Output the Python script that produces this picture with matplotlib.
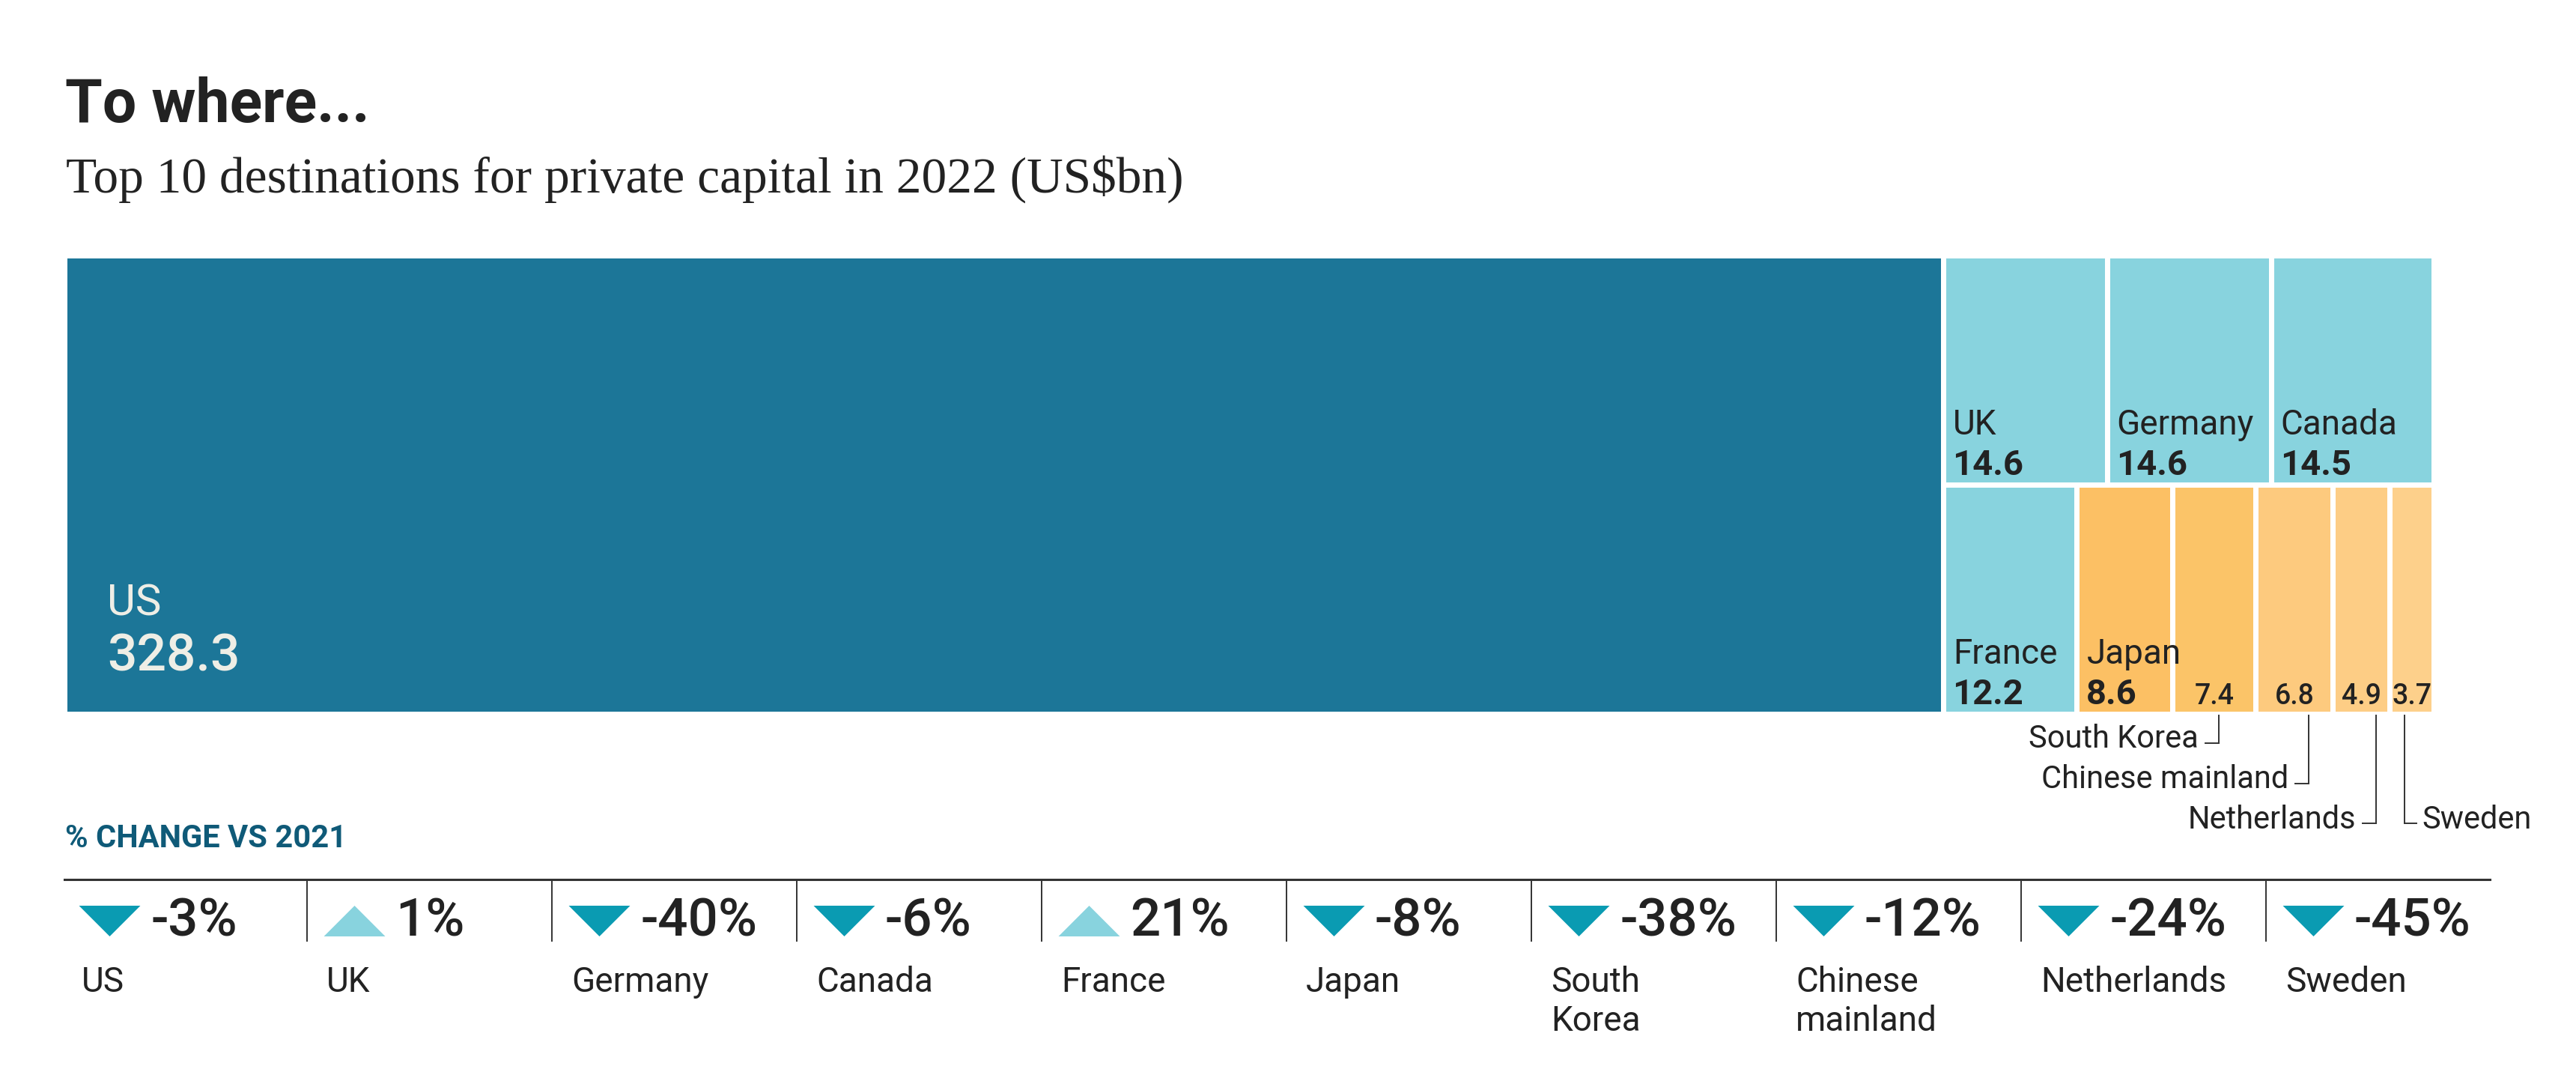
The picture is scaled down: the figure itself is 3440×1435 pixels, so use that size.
import matplotlib.pyplot as plt
from matplotlib.patches import Rectangle

# Data
countries = ["US", "UK", "Germany", "Canada", "France", "Japan",
             "South Korea", "Chinese mainland", "Netherlands", "Sweden"]
values = [328.3, 14.6, 14.6, 14.5, 12.2, 8.6, 7.4, 6.8, 4.9, 3.7]
changes = [-3, 1, -40, -6, 21, -8, -38, -12, -24, -45]
strip_labels = ["US", "UK", "Germany", "Canada", "France", "Japan",
                "South\nKorea", "Chinese\nmainland", "Netherlands", "Sweden"]
cell_colors = ["#1c7698", "#88d3de", "#88d3de", "#88d3de", "#88d3de",
               "#fcc064", "#fbc468", "#fdca7e", "#fdcd85", "#fdd08b"]

TEXT = "#222222"
SANS = "Roboto"
SERIF = "Liberation Serif"

W, H = 3440, 1435
fig = plt.figure(figsize=(W / 100, H / 100), dpi=100)
ax = fig.add_axes([0, 0, 1, 1])
ax.set_xlim(0, W)
ax.set_ylim(H, 0)
ax.axis("off")

# Titles
ax.text(87, 163, "To where...", fontsize=58, fontweight="bold", family=SANS,
        color=TEXT, va="baseline")
ax.text(88, 257, "Top 10 destinations for private capital in 2022 (US$bn)",
        fontsize=48.5, family=SERIF, color=TEXT, va="baseline")

# Treemap layout: US column, then two rows for the rest
left, right, top, bottom = 90, 3247, 345, 950
gap = 7
total = sum(values)
us_w = (right - left) * values[0] / total + 8
cells = [(left, top, us_w, bottom - top)]

rest_x0 = left + us_w + gap
rest_w = right - rest_x0
rows = [values[1:4], values[4:]]
row_sums = [sum(r) for r in rows]
h_avail = bottom - top - gap
y0 = top
for r, rs in zip(rows, row_sums):
    rh = h_avail * rs / sum(row_sums)
    x0 = rest_x0
    w_avail = rest_w - gap * (len(r) - 1)
    for v in r:
        cw = w_avail * v / rs
        cells.append((x0, y0, cw, rh))
        x0 += cw + gap
    y0 += rh + gap

for i, (x, y, w, h) in enumerate(cells):
    ax.add_patch(Rectangle((x, y), w, h, facecolor=cell_colors[i], edgecolor="none"))
    name, val = countries[i], f"{values[i]:.1f}"
    if i == 0:
        ax.text(x + 53, y + h - 128, name, fontsize=42, family=SANS,
                color="#eeeee6", va="baseline")
        ax.text(x + 53, y + h - 54, val, fontsize=50, family=SANS,
                fontweight="medium", color="#eeeee6", va="baseline")
    elif i <= 5:
        ax.text(x + 9, y + h - 64, name, fontsize=33, family=SANS,
                color=TEXT, va="baseline")
        ax.text(x + 8, y + h - 10, val, fontsize=34, family=SANS,
                fontweight="bold", color=TEXT, va="baseline")
    else:
        ax.text(x + w / 2, y + h - 10, val, fontsize=27, family=SANS,
                fontweight="medium", color=TEXT, va="baseline", ha="center")

# Leader lines for the narrow cells
leader_frac = [0.55, 0.7, 0.78, 0.3]
leader_y = [992, 1046, 1099, 1099]
leader_side = ["left", "left", "left", "right"]
for k, i in enumerate(range(6, 10)):
    x, y, w, h = cells[i]
    lx = x + w * leader_frac[k]
    ly = leader_y[k]
    ax.plot([lx, lx], [y + h + 5, ly], color="#333333", lw=1.4)
    if leader_side[k] == "left":
        ax.plot([lx, lx - 18], [ly, ly], color="#333333", lw=1.4)
        ax.text(lx - 27, ly - 5, countries[i], fontsize=30, family=SANS,
                color=TEXT, va="center", ha="right")
    else:
        ax.plot([lx, lx + 16], [ly, ly], color="#333333", lw=1.4)
        ax.text(lx + 24, ly - 5, countries[i], fontsize=30, family=SANS,
                color=TEXT, va="center", ha="left")

# % change strip
ax.text(87, 1131, "% CHANGE VS 2021", fontsize=30, fontweight="bold",
        family=SANS, color="#0f5a78", va="baseline")
ax.plot([86, 3325], [1174, 1174], color="#333333", lw=2.2)

col_w = 327
down_marker = [(-2, 1), (2, 1), (0, -1)]
up_marker = [(-2, -1), (2, -1), (0, 1)]
for i, (c, lab) in enumerate(zip(changes, strip_labels)):
    cx = 83 + col_w * i
    if i > 0:
        ax.plot([cx, cx], [1174, 1256], color="#333333", lw=1.4)
    tri_col = "#0a9bb2" if c < 0 else "#88d3de"
    ax.scatter([cx + 63], [1229], s=59 ** 2, marker=down_marker if c < 0 else up_marker,
               color=tri_col, linewidths=0)
    ax.text(cx + 118, 1250, f"{c}%", fontsize=51, family=SANS, fontweight="medium",
            color=TEXT, va="baseline")
    for j, line in enumerate(lab.split("\n")):
        ax.text(cx + 26, 1324 + 52 * j, line, fontsize=33, family=SANS, color=TEXT,
                va="baseline")

fig.savefig("out.png", dpi=100, facecolor="white")
